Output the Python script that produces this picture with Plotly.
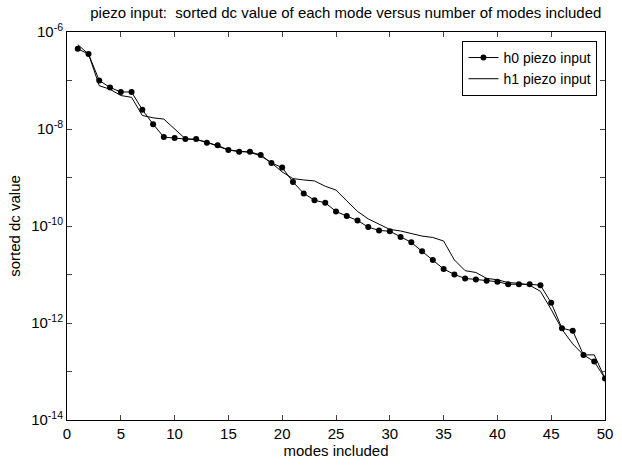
import plotly.graph_objects as go

modes = list(range(1, 51))
h0 = [4.5e-7, 3.5e-7, 1.0e-7, 7.2e-8, 5.8e-8, 5.8e-8, 2.5e-8, 1.26e-8, 6.8e-9, 6.5e-9,
      6.2e-9, 6.2e-9, 5.2e-9, 4.6e-9, 3.7e-9, 3.4e-9, 3.4e-9, 2.9e-9, 2.0e-9, 1.6e-9,
      8.1e-10, 4.7e-10, 3.4e-10, 3.0e-10, 2.0e-10, 1.6e-10, 1.3e-10, 9.5e-11, 8.1e-11, 7.8e-11,
      5.9e-11, 4.6e-11, 3.0e-11, 2.0e-11, 1.3e-11, 1.0e-11, 8.3e-12, 7.9e-12, 7.4e-12, 7.1e-12,
      6.3e-12, 6.3e-12, 6.3e-12, 6.0e-12, 2.6e-12, 7.8e-13, 6.9e-13, 2.2e-13, 1.6e-13, 7.2e-14]
h1 = [5.5e-7, 3.5e-7, 7.8e-8, 6.6e-8, 4.9e-8, 4.5e-8, 1.9e-8, 1.7e-8, 1.6e-8, 1.0e-8,
      6.3e-9, 6.0e-9, 5.4e-9, 4.4e-9, 3.7e-9, 3.5e-9, 3.3e-9, 2.8e-9, 2.0e-9, 1.3e-9,
      9.5e-10, 8.9e-10, 8.5e-10, 6.6e-10, 5.5e-10, 3.3e-10, 2.0e-10, 1.4e-10, 1.1e-10, 8.5e-11,
      7.9e-11, 6.9e-11, 6.2e-11, 5.8e-11, 4.9e-11, 2.0e-11, 1.2e-11, 1.1e-11, 8.3e-12, 7.8e-12,
      6.8e-12, 6.6e-12, 6.0e-12, 4.5e-12, 1.9e-12, 7.4e-13, 3.7e-13, 2.2e-13, 2.2e-13, 7.2e-14]

x_ticks = list(range(0, 51, 5))
y_exps = list(range(-14, -5))
y_tickvals = [10.0 ** e for e in y_exps]
y_ticktext = [("10<sup>%d</sup>" % e) if e % 2 == 0 else "" for e in y_exps]

FONT = "Liberation Sans, Arial, sans-serif"
FS = 15

fig = go.Figure()
fig.add_trace(go.Scatter(x=modes, y=h0, mode="lines+markers", name="h0 piezo input",
                         line=dict(color="black", width=1),
                         marker=dict(color="black", size=6, symbol="circle")))
fig.add_trace(go.Scatter(x=modes, y=h1, mode="lines", name="h1 piezo input",
                         line=dict(color="black", width=1)))

fig.update_layout(
    width=622, height=466,
    margin=dict(l=67, r=9, t=32, b=46),
    paper_bgcolor="white", plot_bgcolor="white",
    font=dict(family=FONT, size=FS, color="black"),
    title=dict(text="piezo input:  sorted dc value of each mode versus number of modes included",
               x=0.556, xanchor="center", y=0.973, yanchor="middle",
               font=dict(family=FONT, size=15, color="black")),
    showlegend=True,
    legend=dict(x=0.986, xanchor="right", y=0.977, yanchor="top",
                bgcolor="white", bordercolor="black", borderwidth=1,
                font=dict(family=FONT, size=14, color="black"),
                tracegroupgap=0, itemwidth=30),
)
fig.update_xaxes(range=[0, 50], tickvals=x_ticks, ticks="inside", ticklen=5,
                 showline=True, linecolor="black", linewidth=1, mirror="ticks",
                 showgrid=False, zeroline=False,
                 title=dict(text="modes included", standoff=3,
                            font=dict(family=FONT, size=FS, color="black")),
                 tickfont=dict(family=FONT, size=FS, color="black"))
fig.update_yaxes(type="log", range=[-14, -6], tickvals=y_tickvals, ticktext=y_ticktext,
                 ticks="inside", ticklen=5,
                 showline=True, linecolor="black", linewidth=1, mirror="ticks",
                 showgrid=False, zeroline=False,
                 title=dict(text="sorted dc value", standoff=6,
                            font=dict(family=FONT, size=FS, color="black")),
                 tickfont=dict(family=FONT, size=FS, color="black"))

fig.write_html("out.html", config={"displayModeBar": False},
               post_script="document.body.style.margin='0';")
